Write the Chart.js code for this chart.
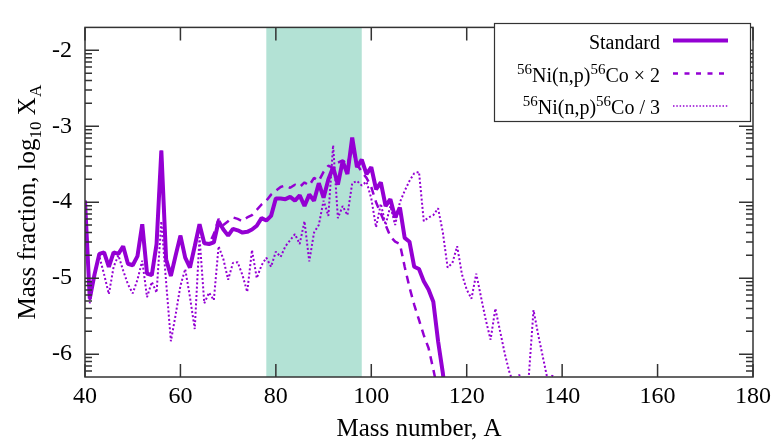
<!DOCTYPE html>
<html>
<head>
<meta charset="utf-8">
<script src="https://cdn.jsdelivr.net/npm/chart.js@4.4.1/dist/chart.umd.min.js"></script>
<style>
  body { margin: 0; background: #fff; }
  #wrap { width: 778px; height: 443px; }
</style>
</head>
<body>
<div id="wrap"><canvas id="fractions" width="778" height="443"></canvas></div>
<script>
// Mass fraction (log10 X_A) against mass number A, three reaction-rate variants
const massNumbers = [
  40, 41, 42, 43, 44, 45, 46, 47, 48, 49, 50, 51, 52, 53, 54, 55, 56, 57, 58, 59,
  60, 61, 62, 63, 64, 65, 66, 67, 68, 69, 70, 71, 72, 73, 74, 75, 76, 77, 78, 79,
  80, 81, 82, 83, 84, 85, 86, 87, 88, 89, 90, 91, 92, 93, 94, 95, 96, 97, 98, 99,
  100, 101, 102, 103, 104, 105, 106, 107, 108, 109, 110, 111, 112, 113, 114, 115, 116, 117, 118, 119,
  120, 121, 122, 123, 124, 125, 126, 127, 128, 129, 130, 131, 132, 133, 134, 135, 136, 137, 138, 139
];

// A = 40 .. 116
const standard = [
  -3.98, -5.27, -4.95, -4.68, -4.66, -4.85, -4.66, -4.68, -4.58, -4.81,
  -4.83, -4.71, -4.29, -4.94, -4.96, -4.55, -3.32, -4.75, -4.97, -4.70,
  -4.44, -4.73, -4.86, -4.58, -4.29, -4.54, -4.55, -4.53, -4.25, -4.36,
  -4.44, -4.35, -4.37, -4.40, -4.39, -4.36, -4.31, -4.21, -4.24, -4.18,
  -3.95, -3.95, -3.96, -3.93, -3.98, -3.91, -4.05, -3.90, -3.98, -3.75,
  -3.94, -3.70, -3.54, -3.77, -3.46, -3.63, -3.15, -3.54, -3.44, -3.63,
  -3.54, -3.83, -3.74, -4.05, -3.96, -4.20, -4.07, -4.47, -4.52, -4.85,
  -4.88, -5.04, -5.15, -5.31, -5.83, -6.25, -6.80
];

// A = 40 .. 114
const niNpTimes2 = [
  -3.98, -5.27, -4.95, -4.68, -4.66, -4.85, -4.66, -4.68, -4.58, -4.81,
  -4.83, -4.71, -4.29, -4.94, -4.96, -4.55, -3.32, -4.75, -4.97, -4.70,
  -4.44, -4.73, -4.86, -4.58, -4.29, -4.54, -4.55, -4.42, -4.22, -4.30,
  -4.25, -4.20, -4.22, -4.25, -4.20, -4.17, -4.10, -4.03, -3.98, -3.90,
  -3.85, -3.80, -3.78, -3.81, -3.77, -3.80, -3.74, -3.78, -3.68, -3.72,
  -3.60, -3.52, -3.55, -3.48, -3.45, -3.50, -3.30, -3.50, -3.60, -3.68,
  -3.80, -4.00, -4.15, -4.30, -4.45, -4.52, -4.55, -4.85, -5.12, -5.35,
  -5.55, -5.75, -5.92, -6.20, -6.50
];

// A = 40 .. 139
const niNpOver3 = [
  -4.05, -5.33, -4.95, -4.71, -4.95, -5.21, -4.85, -4.70, -4.90, -5.08,
  -5.20, -5.02, -4.77, -5.25, -5.05, -5.19, -4.25, -5.05, -5.83, -5.48,
  -5.10, -4.88, -5.25, -5.67, -4.46, -5.33, -5.19, -5.29, -4.58, -4.75,
  -5.02, -4.80, -4.79, -4.96, -5.18, -4.63, -5.00, -4.83, -4.73, -4.85,
  -4.65, -4.72, -4.58, -4.50, -4.42, -4.55, -4.25, -4.78, -4.40, -4.30,
  -3.98, -4.18, -3.25, -4.21, -4.05, -4.17, -3.75, -3.72, -3.78, -3.73,
  -3.95, -4.33, -4.02, -4.30, -4.05, -4.30, -4.00, -3.85, -3.72, -3.62,
  -3.60, -4.25, -4.20, -4.17, -4.08, -4.40, -4.86, -4.80, -4.58, -4.95,
  -5.15, -5.27, -4.94, -5.25, -5.55, -5.81, -5.40, -5.70, -6.00, -6.25,
  -6.40, -6.27, -6.45, -6.30, -5.42, -5.75, -6.05, -6.35, -6.28, -6.60
];

const xTicks = [40, 60, 80, 100, 120, 140, 160, 180];
const yTicks = [-6, -5, -4, -3, -2];
const yTickLabels = ['-6', '-5', '-4', '-3', '-2'];
const shadedBand = [78, 98];

// legend text pieces: [text, isSuperscript]
const legendLabels = [
  [['Standard', false]],
  [['56', true], ['Ni(n,p)', false], ['56', true], ['Co \u00d7 2', false]],
  [['56', true], ['Ni(n,p)', false], ['56', true], ['Co / 3', false]]
];

const FONT = '"Liberation Serif", "Times New Roman", serif';
const PURPLE = '#9400d3';
const Y_MIN = -6.301, Y_MAX = -1.699;

function toPoints(values) {
  return values.map((v, i) => ({ x: massNumbers[i], y: v }));
}

const lineStyles = [
  { width: 4, dash: [], legendDash: [] },
  { width: 2.5, dash: [8, 6], legendDash: [5, 6.5] },
  { width: 2, dash: [2, 2.2], legendDash: [1.5, 1.8] }
];

const decor = {
  id: 'decor',
  beforeDatasetsDraw(chart) {
    const { ctx, chartArea: a, scales: { x } } = chart;
    const x0 = x.getPixelForValue(shadedBand[0]);
    const x1 = x.getPixelForValue(shadedBand[1]);
    ctx.save();
    ctx.fillStyle = '#b3e2d5';
    ctx.fillRect(x0, a.top, x1 - x0, a.bottom - a.top);
    ctx.restore();
  },
  afterDatasetsDraw(chart) {
    const { ctx, chartArea: a, scales: { x, y } } = chart;
    ctx.save();
    ctx.strokeStyle = '#333';
    ctx.lineWidth = 1.5;
    ctx.beginPath();
    // x major ticks, bottom and top, pointing inward
    xTicks.forEach(v => {
      const px = x.getPixelForValue(v);
      ctx.moveTo(px, a.bottom); ctx.lineTo(px, a.bottom - 13);
      ctx.moveTo(px, a.top); ctx.lineTo(px, a.top + 13);
    });
    // y major ticks
    yTicks.forEach(v => {
      const py = y.getPixelForValue(v);
      ctx.moveTo(a.left, py); ctx.lineTo(a.left + 14, py);
      ctx.moveTo(a.right, py); ctx.lineTo(a.right - 14, py);
    });
    // y minor ticks, log spacing inside each decade
    for (let d = -7; d <= -2; d++) {
      for (let k = 2; k <= 9; k++) {
        const v = d + Math.log10(k);
        if (v <= Y_MIN + 0.005 || v >= Y_MAX - 0.005) continue;
        const py = y.getPixelForValue(v);
        ctx.moveTo(a.left, py); ctx.lineTo(a.left + 7, py);
        ctx.moveTo(a.right, py); ctx.lineTo(a.right - 7, py);
      }
    }
    ctx.stroke();
    ctx.strokeRect(a.left, a.top, a.right - a.left, a.bottom - a.top);
    ctx.restore();
  },
  afterDraw(chart) {
    const { ctx, chartArea: a } = chart;
    ctx.save();
    ctx.fillStyle = '#000';

    // x title
    ctx.font = '25px ' + FONT;
    ctx.textAlign = 'center';
    ctx.textBaseline = 'middle';
    ctx.fillText('Mass number, A', (a.left + a.right) / 2, 429);

    // y title with subscripts
    const parts = [['Mass fraction, log', false], ['10', true], [' X', false], ['A', true]];
    const fontFor = sub => (sub ? '17px ' : '25px ') + FONT;
    let total = 0;
    parts.forEach(([t, sub]) => { ctx.font = fontFor(sub); total += ctx.measureText(t).width; });
    ctx.translate(27, (a.top + a.bottom) / 2);
    ctx.rotate(-Math.PI / 2);
    ctx.textAlign = 'left';
    ctx.textBaseline = 'alphabetic';
    let cx = -total / 2;
    parts.forEach(([t, sub]) => {
      ctx.font = fontFor(sub);
      ctx.fillText(t, cx, sub ? 14 : 8);
      cx += ctx.measureText(t).width;
    });
    ctx.setTransform(1, 0, 0, 1, 0, 0);

    // legend
    ctx.fillStyle = '#fff';
    ctx.fillRect(494, 23, 257, 99);
    ctx.strokeStyle = '#333';
    ctx.lineWidth = 1.2;
    ctx.strokeRect(494.5, 23.5, 256, 98);
    const baselines = [48.5, 81.5, 114];
    legendLabels.forEach((pieces, i) => {
      let w = 0;
      pieces.forEach(([t, sup]) => { ctx.font = (sup ? '15px ' : '20px ') + FONT; w += ctx.measureText(t).width; });
      let px = 660 - w;
      ctx.fillStyle = '#000';
      ctx.textAlign = 'left';
      pieces.forEach(([t, sup]) => {
        ctx.font = (sup ? '15px ' : '20px ') + FONT;
        ctx.fillText(t, px, baselines[i] - (sup ? 8 : 0));
        px += ctx.measureText(t).width;
      });
      const ly = baselines[i] - 8;
      ctx.strokeStyle = PURPLE;
      ctx.lineWidth = i === 2 ? 1.5 : lineStyles[i].width;
      ctx.setLineDash(lineStyles[i].legendDash);
      ctx.beginPath();
      ctx.moveTo(673, ly);
      ctx.lineTo(728, ly);
      ctx.stroke();
    });
    ctx.restore();
  }
};

const seriesValues = [standard, niNpTimes2, niNpOver3];

new Chart(document.getElementById('fractions'), {
  type: 'line',
  data: {
    datasets: seriesValues.map((vals, i) => ({
      data: toPoints(vals),
      borderColor: PURPLE,
      borderWidth: lineStyles[i].width,
      borderDash: lineStyles[i].dash,
      borderJoinStyle: 'bevel',
      pointRadius: 0,
      tension: 0,
      fill: false,
      clip: 0
    }))
  },
  options: {
    responsive: false,
    animation: false,
    layout: { padding: { top: 8, right: 25, bottom: 0, left: 0 } },
    plugins: {
      legend: { display: false },
      tooltip: { enabled: false }
    },
    scales: {
      x: {
        type: 'linear',
        min: 40,
        max: 180,
        afterBuildTicks: s => { s.ticks = xTicks.map(v => ({ value: v })); },
        afterFit: s => { s.height = 66; },
        ticks: {
          font: { family: FONT, size: 24 },
          color: '#000',
          padding: 5,
          maxRotation: 0,
          autoSkip: false
        },
        grid: { display: false, drawTicks: false },
        border: { display: false }
      },
      y: {
        type: 'linear',
        min: Y_MIN,
        max: Y_MAX,
        afterBuildTicks: s => { s.ticks = yTicks.map(v => ({ value: v })); },
        afterFit: s => { s.width = 85; },
        ticks: {
          callback: v => yTickLabels[yTicks.indexOf(v)],
          font: { family: FONT, size: 24 },
          color: '#000',
          padding: 13
        },
        grid: { display: false, drawTicks: false },
        border: { display: false }
      }
    }
  },
  plugins: [decor]
});
</script>
</body>
</html>
